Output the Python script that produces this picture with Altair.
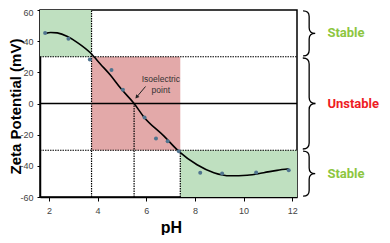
import altair as alt
import pandas as pd

# measured points
ph_pts = [1.84, 2.80, 3.68, 4.57, 5.04, 5.93, 6.40, 6.88, 7.34, 8.22, 9.12, 10.52, 11.86]
zeta_pts = [45.3, 41.6, 28.3, 21.5, 8.9, -9.0, -22.4, -24.2, -30.7, -44.4, -44.9, -44.2, -42.8]

# fitted curve
ph_fit = [1.86, 2.07, 2.34, 2.76, 3.17, 3.71, 4.12, 4.53, 4.94, 5.50, 5.90, 6.72, 7.34, 8.09, 8.78, 9.46, 10.15, 10.83, 11.38, 11.86]
zeta_fit = [45.0, 45.6, 45.3, 43.0, 39.1, 32.4, 25.2, 18.1, 9.9, 0.0, -8.6, -20.8, -30.7, -39.3, -44.4, -46.4, -46.0, -44.4, -42.9, -41.9]

X_MIN, X_MAX = 1.63, 12.2

# stability zones
zone_x1 = [X_MIN, 3.75, 7.4]
zone_x2 = [3.75, 7.4, X_MAX]
zone_y1 = [30, -30, -60]
zone_y2 = [60, 30, -30]
zone_col = ["#bfe0c0", "#e3a9a9", "#bfe0c0"]

# dotted guide lines
dot_x1 = [X_MIN, X_MIN, 3.75, 5.5, 7.4]
dot_x2 = [X_MAX, X_MAX, 3.75, 5.5, 7.4]
dot_y1 = [30, -30, -60, -60, -60]
dot_y2 = [30, -30, 60, 0, -30]

# right-side labels
lab_text = ["Stable", "Unstable", "Stable"]
lab_y = [45, 0, -45]
lab_col = ["#8dc63f", "#ee1c24", "#8dc63f"]
brace_x = 12.7
lab_x = 13.45

x_ticks = [2, 4, 6, 8, 10, 12]
y_ticks = [-60, -40, -20, 0, 20, 40, 60]

xs = alt.Scale(domain=[X_MIN, X_MAX], nice=False, zero=False)
ys = alt.Scale(domain=[-60, 60], nice=False, zero=False)

x_axis = alt.Axis(values=x_ticks, grid=False, tickSize=4, labelPadding=5, labelOverlap=False,
                  titleX=131, titleY=35, titleBaseline="alphabetic",
                  titleFontSize=16, titleFontWeight="bold")
y_axis = alt.Axis(values=y_ticks, grid=False, tickSize=3, labelPadding=4, labelOverlap=False,
                  labelExpr="datum.value + ''",
                  labelOffset=alt.condition("datum.value == 60", alt.value(2.5), alt.value(0)),
                  titleX=-25, titleY=96, titleBaseline="middle", titleAlign="center",
                  titleAngle=-90, titleFontSize=15, titleFontWeight="bold")


def X(f):
    return alt.X(f, scale=xs, axis=x_axis, title="pH")


def Y(f):
    return alt.Y(f, scale=ys, axis=y_axis, title="Zeta Potential (mV)")


zones = pd.DataFrame({"x": zone_x1, "x2": zone_x2, "y": zone_y1, "y2": zone_y2, "c": zone_col})
dots = pd.DataFrame({"x": dot_x1, "x2": dot_x2, "y": dot_y1, "y2": dot_y2})
pts = pd.DataFrame({"ph": ph_pts, "z": zeta_pts})
fit = pd.DataFrame({"ph": ph_fit, "z": zeta_fit})
zero = pd.DataFrame({"x": [X_MIN], "x2": [X_MAX], "y": [0]})

zone_layer = alt.Chart(zones).mark_rect(opacity=1).encode(
    x=X("x:Q"), x2="x2:Q", y=Y("y:Q"), y2="y2:Q", color=alt.Color("c:N", scale=None))

dot_layer = alt.Chart(dots).mark_rule(color="black", strokeDash=[1.5, 1], strokeWidth=1.2).encode(
    x=X("x:Q"), x2="x2:Q", y=Y("y:Q"), y2="y2:Q")

zero_layer = alt.Chart(zero).mark_rule(color="black", strokeWidth=1.5).encode(
    x=X("x:Q"), x2="x2:Q", y=Y("y:Q"))

fit_layer = alt.Chart(fit).mark_line(color="black", strokeWidth=1.6, interpolate="monotone").encode(
    x=X("ph:Q"), y=Y("z:Q"))

pt_layer = alt.Chart(pts).mark_circle(color="#50748f", size=16, opacity=1).encode(
    x=X("ph:Q"), y=Y("z:Q"))

# isoelectric annotation
iso = pd.DataFrame({"x": [6.6], "y": [15.5], "t": ["Isoelectric\npoint"]})
iso_text = alt.Chart(iso).mark_text(fontSize=8.5, color="#333", lineBreak="\n", lineHeight=11,
                                    font="Liberation Sans", align="center",
                                    baseline="middle").encode(
    x=X("x:Q"), y=Y("y:Q"), text="t:N")
arr = pd.DataFrame({"x": [5.97], "y": [10.9], "x2": [5.62], "y2": [4.4]})
arr_line = alt.Chart(arr).mark_rule(color="#222", strokeWidth=1).encode(
    x=X("x:Q"), y=Y("y:Q"), x2="x2:Q", y2="y2:Q")
arr_head = alt.Chart(arr).mark_point(shape="triangle", angle=220, filled=True, size=18,
                                     color="#222", opacity=1).encode(
    x=X("x2:Q"), y=Y("y2:Q"))

# braces
brace_short = "M -0.27,-1 Q 0,-1 0,-0.75 L 0,-0.25 Q 0,0 0.27,0 Q 0,0 0,0.25 L 0,0.75 Q 0,1 -0.27,1"
brace_tall = "M -0.14,-1 Q 0,-1 0,-0.87 L 0,-0.13 Q 0,0 0.14,0 Q 0,0 0,0.13 L 0,0.87 Q 0,1 -0.14,1"
b_short = pd.DataFrame({"x": [brace_x, brace_x], "y": [45, -45]})
b_tall = pd.DataFrame({"x": [brace_x], "y": [0]})
brace1 = alt.Chart(b_short).mark_point(shape=brace_short, size=45 * 45, filled=False,
                                       color="black", strokeWidth=1.3, opacity=1).encode(
    x=X("x:Q"), y=Y("y:Q"))
brace2 = alt.Chart(b_tall).mark_point(shape=brace_tall, size=91 * 91, filled=False,
                                      color="black", strokeWidth=1.3, opacity=1).encode(
    x=X("x:Q"), y=Y("y:Q"))

labs = pd.DataFrame({"x": [lab_x] * 3, "y": lab_y, "t": lab_text, "c": lab_col})
lab_layer = alt.Chart(labs).mark_text(fontSize=13, fontWeight="bold", align="left", baseline="middle",
                                      font="Roboto").encode(
    x=X("x:Q"), y=Y("y:Q"), text="t:N", color=alt.Color("c:N", scale=None))

chart = alt.layer(zone_layer, dot_layer, zero_layer, fit_layer, pt_layer, iso_text, arr_line, arr_head,
                  brace1, brace2, lab_layer).properties(
    width=257, height=187,
    autosize=alt.AutoSizeParams(type="none"),
    padding={"left": 32, "top": 2, "right": 85, "bottom": 38},
).configure_view(stroke="black", strokeWidth=1.5).configure_axis(
    domainColor="black", domainWidth=1.5, tickColor="black", tickWidth=1,
    labelFont="Liberation Sans", labelFontSize=9, labelColor="#444",
    titleFont="Liberation Sans", titleColor="black", labelOverlap=False,
)

chart.save("out.html", embed_options={"renderer": "svg", "actions": False})
